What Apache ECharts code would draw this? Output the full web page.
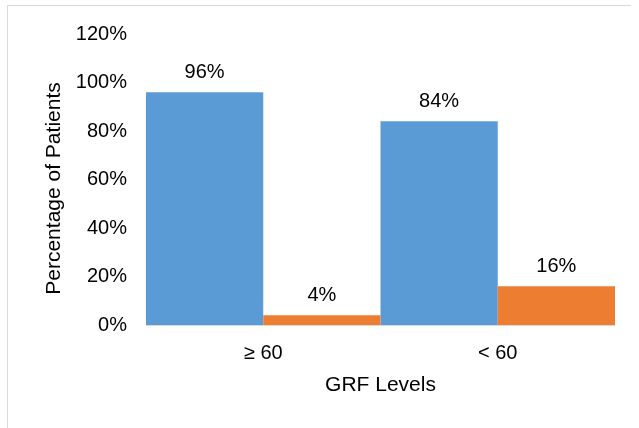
<!DOCTYPE html>
<html>
<head>
<meta charset="utf-8">
<style>
  html, body { margin: 0; padding: 0; background: #fff; }
  #chart { width: 639px; height: 428px; }
</style>
<script src="https://cdn.jsdelivr.net/npm/echarts@6/dist/echarts.min.js"></script>
</head>
<body>
<div id="chart"></div>
<script>
// GRF level groups and the share of patients in each outcome
const categories = ['≥ 60', '< 60'];
const seriesA = [96, 84];
const seriesB = [4, 16];
const yTicks = [0, 20, 40, 60, 80, 100, 120];

const font = 'Liberation Sans, Arial, sans-serif';
const chart = echarts.init(document.getElementById('chart'), null, { renderer: 'canvas' });

const labelStyle = {
  show: true,
  position: 'top',
  distance: 10,
  formatter: p => p.value + '%',
  color: '#000',
  fontSize: 20,
  fontFamily: font
};

chart.setOption({
  animation: false,
  backgroundColor: '#fff',
  graphic: [
    { type: 'polyline', shape: { points: [[7.5, 428], [7.5, 5.5], [631, 5.5]] },
      style: { stroke: '#d9d9d9', lineWidth: 1, fill: null } }
  ],
  grid: { left: 146, right: 24, top: 34, bottom: 103 },
  xAxis: {
    type: 'category',
    data: categories,
    name: 'GRF Levels',
    nameLocation: 'middle',
    nameGap: 50,
    nameTextStyle: { color: '#000', fontSize: 21, fontFamily: font },
    axisLine: { lineStyle: { color: '#d9d9d9', width: 1 } },
    axisTick: { show: false },
    axisLabel: { color: '#000', fontSize: 20, fontFamily: font, margin: 18 }
  },
  yAxis: {
    type: 'value',
    min: yTicks[0],
    max: yTicks[yTicks.length - 1],
    interval: yTicks[1] - yTicks[0],
    name: 'Percentage of Patients',
    nameLocation: 'middle',
    nameGap: 81,
    nameTextStyle: { color: '#000', fontSize: 21, fontFamily: font, padding: [0, 18, 0, 0] },
    axisLine: { show: false },
    axisTick: { show: false },
    splitLine: { show: false },
    axisLabel: { color: '#000', fontSize: 20, fontFamily: font, margin: 19, formatter: v => v + '%' }
  },
  series: [
    { type: 'bar', data: seriesA, barGap: '0%', barCategoryGap: '0%',
      itemStyle: { color: '#5b9bd5' }, label: labelStyle },
    { type: 'bar', data: seriesB, barGap: '0%', barCategoryGap: '0%',
      itemStyle: { color: '#ed7d31' }, label: labelStyle }
  ]
});
</script>
</body>
</html>
